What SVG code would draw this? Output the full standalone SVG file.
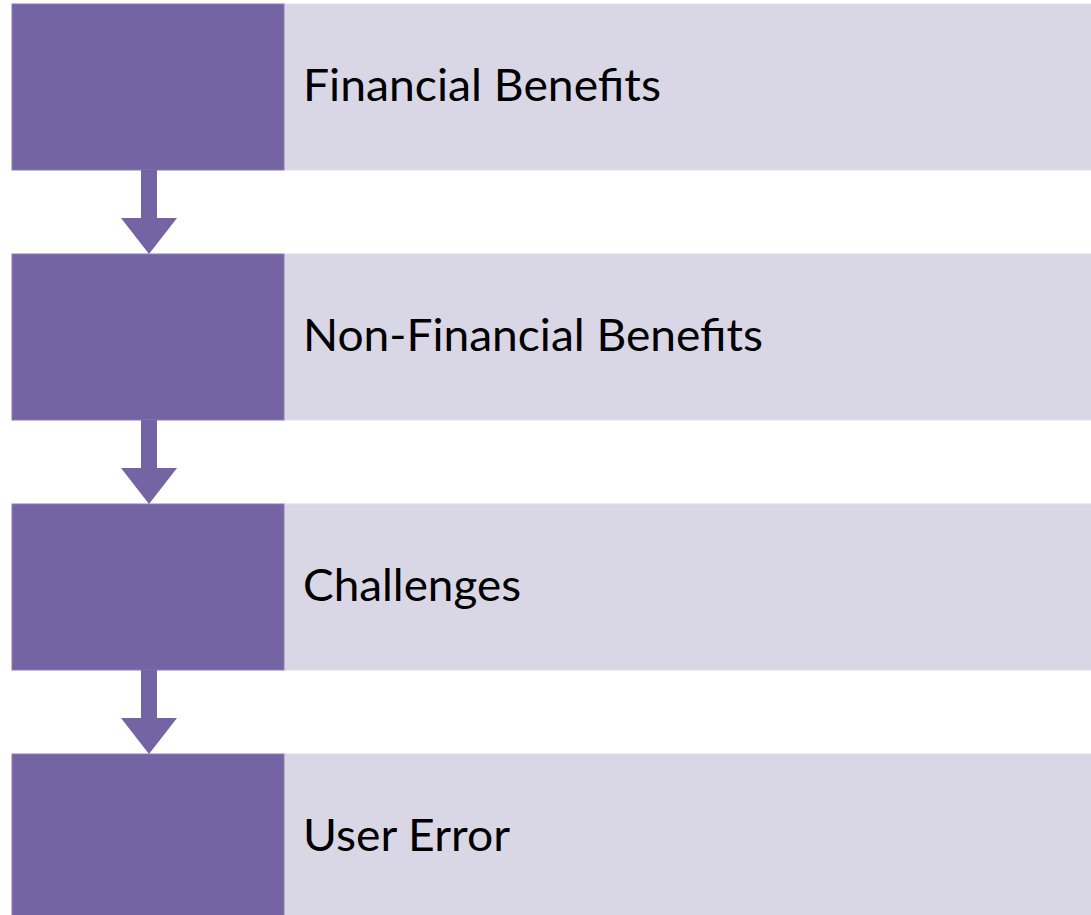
<svg xmlns="http://www.w3.org/2000/svg" width="1091" height="915" viewBox="0 0 1091 915">
<style>
.dark{fill:#7464A4;stroke:#8A7DB5;stroke-width:1}
.light{fill:#D9D7E5;stroke:#E0DEEA;stroke-width:1}
.lbl{font-family:Lato,"Open Sans",sans-serif;font-size:44px;fill:#000}
.arr{fill:#7464A4}
</style>
<rect width="1091" height="915" fill="#fff"/>
<g id="node1">
<rect class="light" x="284" y="4" width="808" height="166"/>
<rect class="dark" x="12" y="4" width="272" height="166"/>
<text class="lbl" x="303" y="101" textLength="358" lengthAdjust="spacingAndGlyphs">Financial Benefits</text>
</g>
<g id="node2">
<rect class="light" x="284" y="254" width="808" height="166"/>
<rect class="dark" x="12" y="254" width="272" height="166"/>
<text class="lbl" x="303" y="351" textLength="460" lengthAdjust="spacingAndGlyphs">Non-Financial Benefits</text>
</g>
<g id="node3">
<rect class="light" x="284" y="504" width="808" height="166"/>
<rect class="dark" x="12" y="504" width="272" height="166"/>
<text class="lbl" x="303" y="601" textLength="218" lengthAdjust="spacingAndGlyphs">Challenges</text>
</g>
<g id="node4">
<rect class="light" x="284" y="754" width="808" height="166"/>
<rect class="dark" x="12" y="754" width="272" height="166"/>
<text class="lbl" x="303" y="851" textLength="207" lengthAdjust="spacingAndGlyphs">User Error</text>
</g>
<g id="connectors">
<polygon class="arr" points="141,170 157,170 157,218 177,218 149,254 121,218 141,218"/>
<polygon class="arr" points="141,420 157,420 157,468 177,468 149,504 121,468 141,468"/>
<polygon class="arr" points="141,670 157,670 157,718 177,718 149,754 121,718 141,718"/>
</g>
</svg>
